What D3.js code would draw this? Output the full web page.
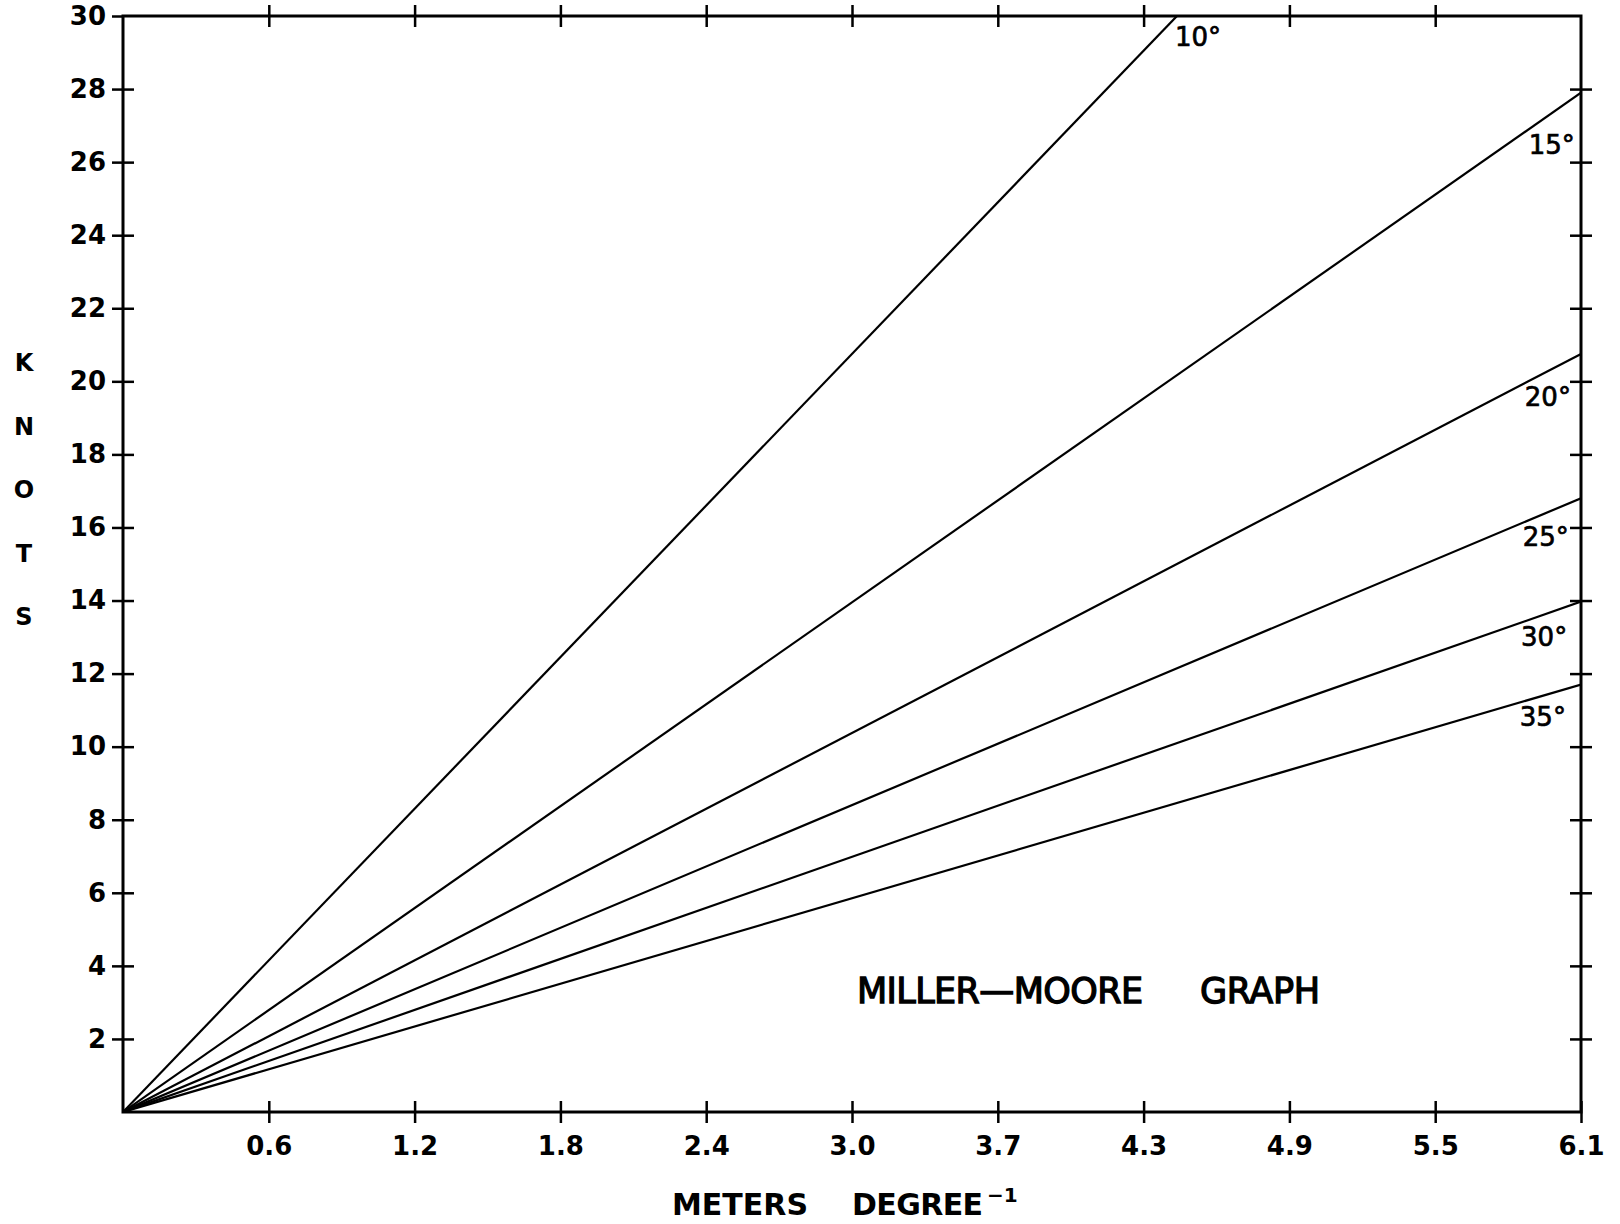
<!DOCTYPE html>
<html>
<head>
<meta charset="utf-8">
<script src="https://cdn.jsdelivr.net/npm/d3@7"></script>
<style>
  html, body { margin: 0; padding: 0; background: #fff; }
  svg { display: block; }
  text { fill: #000; font-family: "DejaVu Sans", sans-serif; }
</style>
</head>
<body>
<svg id="chart" width="1620" height="1224"></svg>
<script>
// Wave-crest angle of each line and the wind speed (knots) it reaches at 6.1 m per degree
const angleLabels = ["10°", "15°", "20°", "25°", "30°", "35°"];
const knotsAtEnd = [41.5, 27.9, 20.75, 16.8, 13.97, 11.7];
const xEnd = 6.10;

// Horizontal axis: 2-foot steps expressed in meters
const xTickValues = [0.61, 1.22, 1.83, 2.44, 3.05, 3.66, 4.27, 4.88, 5.49, 6.10];
const xTickLabels = ["0.6", "1.2", "1.8", "2.4", "3.0", "3.7", "4.3", "4.9", "5.5", "6.1"];

// Vertical axis in knots
const yTickValues = [2, 4, 6, 8, 10, 12, 14, 16, 18, 20, 22, 24, 26, 28, 30];
const yTickLabels = ["2", "4", "6", "8", "10", "12", "14", "16", "18", "20", "22", "24", "26", "28", "30"];

const yTitleLetters = ["K", "N", "O", "T", "S"];

const svg = d3.select("#chart");
const plotLeft = 123, plotRight = 1581, plotTop = 16, plotBottom = 1112;

const x = d3.scaleLinear().domain([0, xEnd]).range([plotLeft, plotRight]);
const y = d3.scaleLinear().domain([0, 30]).range([plotBottom, plotTop]);

const TICK = 11;

// Clip lines to the plot frame
svg.append("defs").append("clipPath").attr("id", "plotClip")
  .append("rect").attr("x", plotLeft).attr("y", plotTop)
  .attr("width", plotRight - plotLeft).attr("height", plotBottom - plotTop);

// Data lines, all radiating from the origin
const lineGen = d3.line().x(d => x(d[0])).y(d => y(d[1]));
svg.append("g").attr("clip-path", "url(#plotClip)")
  .selectAll("path").data(knotsAtEnd).join("path")
  .attr("d", k => lineGen([[0, 0], [xEnd, k]]))
  .attr("fill", "none").attr("stroke", "#000").attr("stroke-width", 2.2);

// Frame
svg.append("rect").attr("x", plotLeft).attr("y", plotTop)
  .attr("width", plotRight - plotLeft).attr("height", plotBottom - plotTop)
  .attr("fill", "none").attr("stroke", "#000").attr("stroke-width", 3);

// Left axis with labels; ticks cross the frame
const gLeft = svg.append("g").attr("transform", `translate(${plotLeft},0)`)
  .call(d3.axisLeft(y).tickValues(yTickValues)
    .tickFormat((d, i) => yTickLabels[i]).tickSize(TICK).tickPadding(6));
gLeft.select(".domain").remove();
gLeft.selectAll(".tick line").attr("x1", TICK).attr("x2", -TICK)
  .attr("stroke", "#000").attr("stroke-width", 2.5);
gLeft.selectAll(".tick line").filter(d => d === 30).attr("x1", 0);
gLeft.selectAll(".tick text").attr("font-size", 26).attr("font-weight", "bold")
  .attr("font-family", "'DejaVu Sans', sans-serif");

// Right axis, ticks only
const gRight = svg.append("g").attr("transform", `translate(${plotRight},0)`)
  .call(d3.axisRight(y).tickValues(yTickValues.filter(v => v < 30)).tickSize(TICK).tickFormat(""));
gRight.select(".domain").remove();
gRight.selectAll(".tick line").attr("x1", -TICK).attr("stroke", "#000").attr("stroke-width", 2.5);

// Bottom axis with labels
const gBottom = svg.append("g").attr("transform", `translate(0,${plotBottom})`)
  .call(d3.axisBottom(x).tickValues(xTickValues)
    .tickFormat((d, i) => xTickLabels[i]).tickSize(TICK).tickPadding(14));
gBottom.select(".domain").remove();
gBottom.selectAll(".tick line").attr("y1", -TICK).attr("stroke", "#000").attr("stroke-width", 2.5);
gBottom.selectAll(".tick text").attr("font-size", 26).attr("font-weight", "bold")
  .attr("font-family", "'DejaVu Sans', sans-serif");

// Top axis, ticks only
const gTop = svg.append("g").attr("transform", `translate(0,${plotTop})`)
  .call(d3.axisTop(x).tickValues(xTickValues.filter(v => v < xEnd)).tickSize(TICK).tickFormat(""));
gTop.select(".domain").remove();
gTop.selectAll(".tick line").attr("y1", TICK).attr("stroke", "#000").attr("stroke-width", 2.5);

// Angle labels just below the end of each line
const labelText = svg.append("g")
  .attr("font-family", "'DejaVu Sans', sans-serif").attr("font-size", 26)
  .attr("stroke", "#000").attr("stroke-width", 0.7);
angleLabels.forEach((lab, i) => {
  const k = knotsAtEnd[i];
  if (k > 30) {
    // line leaves through the top of the frame
    const xTop = x(xEnd * 30 / k);
    labelText.append("text").attr("x", xTop - 2).attr("y", y(30) + 30).text(lab);
  } else {
    labelText.append("text").attr("x", x(xEnd) - 5 - 0.55 * (30 - k))
      .attr("y", y(k) + 43 + 1.2 * (k - 13))
      .attr("text-anchor", "end").text(lab);
  }
});

// Vertical axis title, stacked letters
svg.append("text").attr("font-size", 24).attr("font-weight", "bold")
  .attr("text-anchor", "middle")
  .selectAll("tspan").data(yTitleLetters).join("tspan")
  .attr("x", 24).attr("y", (d, i) => 371 + i * 63.5).text(d => d);

// Horizontal axis title
const xTitle = svg.append("g").attr("font-weight", "bold");
xTitle.append("text").attr("x", 672).attr("y", 1215).attr("font-size", 30)
  .attr("textLength", 136).attr("lengthAdjust", "spacing").text("METERS");
xTitle.append("text").attr("x", 852).attr("y", 1215).attr("font-size", 30)
  .attr("textLength", 131).attr("lengthAdjust", "spacing").text("DEGREE");
xTitle.append("text").attr("x", 987).attr("y", 1202).attr("font-size", 20)
  .text("−1");

// Chart title inside the plot
const title = svg.append("g").attr("font-size", 35)
  .attr("stroke", "#000").attr("stroke-width", 1.3);
title.append("text").attr("x", 857).attr("y", 1003)
  .attr("textLength", 286).attr("lengthAdjust", "spacing").text("MILLER—MOORE");
title.append("text").attr("x", 1200).attr("y", 1003)
  .attr("textLength", 120).attr("lengthAdjust", "spacing").text("GRAPH");
</script>
</body>
</html>
